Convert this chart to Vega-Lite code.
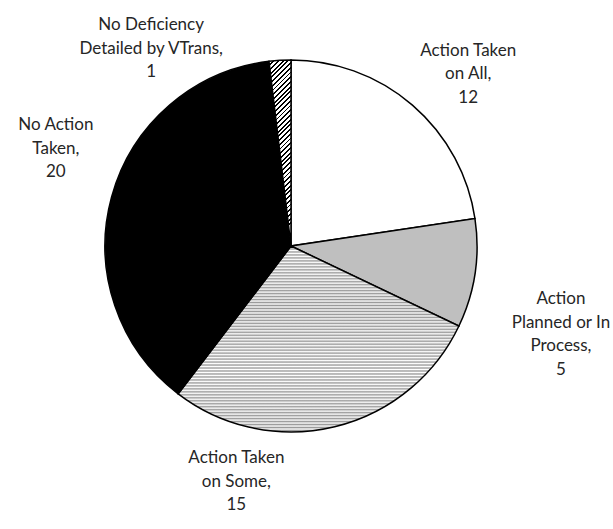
{
  "$schema": "https://vega.github.io/schema/vega-lite/v6.json",
  "width": 558,
  "height": 470,
  "autosize": {"type": "none"},
  "padding": {"left": 12, "top": 11, "right": 43, "bottom": 48},
  "background": "white",
  "config": {"view": {"stroke": null}},
  "data": {
    "values": [
      {"category": "Action Taken on All", "count": 12, "idx": 1, "label": "Action Taken\non All,\n12"},
      {"category": "Action Planned or In Process", "count": 5, "idx": 2, "label": "Action\nPlanned or In\nProcess,\n5"},
      {"category": "Action Taken on Some", "count": 15, "idx": 3, "label": "Action Taken\non Some,\n15"},
      {"category": "No Action Taken", "count": 20, "idx": 4, "label": "No Action\nTaken,\n20"},
      {"category": "No Deficiency Detailed by VTrans", "count": 1, "idx": 5, "label": "No Deficiency\nDetailed by VTrans,\n1"}
    ]
  },
  "encoding": {
    "theta": {"field": "count", "type": "quantitative", "stack": true},
    "order": {"field": "idx", "type": "quantitative"}
  },
  "layer": [
    {
      "mark": {"type": "arc", "outerRadius": 186, "stroke": "#000000", "strokeWidth": 1.5},
      "encoding": {
        "fill": {
          "condition": [
            {"test": "datum.category === 'Action Taken on Some'", "value": {"gradient": "linear", "x1": 0, "y1": 0, "x2": 0, "y2": 1, "stops": [
              {"offset": 0, "color": "#999"}, {"offset": 0.008, "color": "#fff"}, {"offset": 0.016, "color": "#999"}, {"offset": 0.024, "color": "#fff"},
              {"offset": 0.032, "color": "#999"}, {"offset": 0.04, "color": "#fff"}, {"offset": 0.048, "color": "#999"}, {"offset": 0.056, "color": "#fff"},
              {"offset": 0.064, "color": "#999"}, {"offset": 0.072, "color": "#fff"}, {"offset": 0.08, "color": "#999"}, {"offset": 0.088, "color": "#fff"},
              {"offset": 0.096, "color": "#999"}, {"offset": 0.104, "color": "#fff"}, {"offset": 0.112, "color": "#999"}, {"offset": 0.12, "color": "#fff"},
              {"offset": 0.128, "color": "#999"}, {"offset": 0.136, "color": "#fff"}, {"offset": 0.144, "color": "#999"}, {"offset": 0.152, "color": "#fff"},
              {"offset": 0.16, "color": "#999"}, {"offset": 0.168, "color": "#fff"}, {"offset": 0.176, "color": "#999"}, {"offset": 0.184, "color": "#fff"},
              {"offset": 0.192, "color": "#999"}, {"offset": 0.2, "color": "#fff"}, {"offset": 0.208, "color": "#999"}, {"offset": 0.216, "color": "#fff"},
              {"offset": 0.224, "color": "#999"}, {"offset": 0.232, "color": "#fff"}, {"offset": 0.24, "color": "#999"}, {"offset": 0.248, "color": "#fff"},
              {"offset": 0.256, "color": "#999"}, {"offset": 0.264, "color": "#fff"}, {"offset": 0.272, "color": "#999"}, {"offset": 0.28, "color": "#fff"},
              {"offset": 0.288, "color": "#999"}, {"offset": 0.296, "color": "#fff"}, {"offset": 0.304, "color": "#999"}, {"offset": 0.312, "color": "#fff"},
              {"offset": 0.32, "color": "#999"}, {"offset": 0.328, "color": "#fff"}, {"offset": 0.336, "color": "#999"}, {"offset": 0.344, "color": "#fff"},
              {"offset": 0.352, "color": "#999"}, {"offset": 0.36, "color": "#fff"}, {"offset": 0.368, "color": "#999"}, {"offset": 0.376, "color": "#fff"},
              {"offset": 0.384, "color": "#999"}, {"offset": 0.392, "color": "#fff"}, {"offset": 0.4, "color": "#999"}, {"offset": 0.408, "color": "#fff"},
              {"offset": 0.416, "color": "#999"}, {"offset": 0.424, "color": "#fff"}, {"offset": 0.432, "color": "#999"}, {"offset": 0.44, "color": "#fff"},
              {"offset": 0.448, "color": "#999"}, {"offset": 0.456, "color": "#fff"}, {"offset": 0.464, "color": "#999"}, {"offset": 0.472, "color": "#fff"},
              {"offset": 0.48, "color": "#999"}, {"offset": 0.488, "color": "#fff"}, {"offset": 0.496, "color": "#999"}, {"offset": 0.504, "color": "#fff"},
              {"offset": 0.512, "color": "#999"}, {"offset": 0.52, "color": "#fff"}, {"offset": 0.528, "color": "#999"}, {"offset": 0.536, "color": "#fff"},
              {"offset": 0.544, "color": "#999"}, {"offset": 0.552, "color": "#fff"}, {"offset": 0.56, "color": "#999"}, {"offset": 0.568, "color": "#fff"},
              {"offset": 0.576, "color": "#999"}, {"offset": 0.584, "color": "#fff"}, {"offset": 0.592, "color": "#999"}, {"offset": 0.6, "color": "#fff"},
              {"offset": 0.608, "color": "#999"}, {"offset": 0.616, "color": "#fff"}, {"offset": 0.624, "color": "#999"}, {"offset": 0.632, "color": "#fff"},
              {"offset": 0.64, "color": "#999"}, {"offset": 0.648, "color": "#fff"}, {"offset": 0.656, "color": "#999"}, {"offset": 0.664, "color": "#fff"},
              {"offset": 0.672, "color": "#999"}, {"offset": 0.68, "color": "#fff"}, {"offset": 0.688, "color": "#999"}, {"offset": 0.696, "color": "#fff"},
              {"offset": 0.704, "color": "#999"}, {"offset": 0.712, "color": "#fff"}, {"offset": 0.72, "color": "#999"}, {"offset": 0.728, "color": "#fff"},
              {"offset": 0.736, "color": "#999"}, {"offset": 0.744, "color": "#fff"}, {"offset": 0.752, "color": "#999"}, {"offset": 0.76, "color": "#fff"},
              {"offset": 0.768, "color": "#999"}, {"offset": 0.776, "color": "#fff"}, {"offset": 0.784, "color": "#999"}, {"offset": 0.792, "color": "#fff"},
              {"offset": 0.8, "color": "#999"}, {"offset": 0.808, "color": "#fff"}, {"offset": 0.816, "color": "#999"}, {"offset": 0.824, "color": "#fff"},
              {"offset": 0.832, "color": "#999"}, {"offset": 0.84, "color": "#fff"}, {"offset": 0.848, "color": "#999"}, {"offset": 0.856, "color": "#fff"},
              {"offset": 0.864, "color": "#999"}, {"offset": 0.872, "color": "#fff"}, {"offset": 0.88, "color": "#999"}, {"offset": 0.888, "color": "#fff"},
              {"offset": 0.896, "color": "#999"}, {"offset": 0.904, "color": "#fff"}, {"offset": 0.912, "color": "#999"}, {"offset": 0.92, "color": "#fff"},
              {"offset": 0.928, "color": "#999"}, {"offset": 0.936, "color": "#fff"}, {"offset": 0.944, "color": "#999"}, {"offset": 0.952, "color": "#fff"},
              {"offset": 0.96, "color": "#999"}, {"offset": 0.968, "color": "#fff"}, {"offset": 0.976, "color": "#999"}, {"offset": 0.984, "color": "#fff"},
              {"offset": 0.992, "color": "#999"}, {"offset": 1, "color": "#fff"}
            ]}},
            {"test": "datum.category === 'No Deficiency Detailed by VTrans'", "value": {"gradient": "linear", "x1": 0, "y1": 0, "x2": 0.118, "y2": 1, "stops": [
              {"offset": 0, "color": "#000"}, {"offset": 0.01, "color": "#000"}, {"offset": 0.01, "color": "#fff"}, {"offset": 0.025, "color": "#fff"},
              {"offset": 0.025, "color": "#000"}, {"offset": 0.035, "color": "#000"}, {"offset": 0.035, "color": "#fff"}, {"offset": 0.05, "color": "#fff"},
              {"offset": 0.05, "color": "#000"}, {"offset": 0.06, "color": "#000"}, {"offset": 0.06, "color": "#fff"}, {"offset": 0.075, "color": "#fff"},
              {"offset": 0.075, "color": "#000"}, {"offset": 0.085, "color": "#000"}, {"offset": 0.085, "color": "#fff"}, {"offset": 0.1, "color": "#fff"},
              {"offset": 0.1, "color": "#000"}, {"offset": 0.11, "color": "#000"}, {"offset": 0.11, "color": "#fff"}, {"offset": 0.125, "color": "#fff"},
              {"offset": 0.125, "color": "#000"}, {"offset": 0.135, "color": "#000"}, {"offset": 0.135, "color": "#fff"}, {"offset": 0.15, "color": "#fff"},
              {"offset": 0.15, "color": "#000"}, {"offset": 0.16, "color": "#000"}, {"offset": 0.16, "color": "#fff"}, {"offset": 0.175, "color": "#fff"},
              {"offset": 0.175, "color": "#000"}, {"offset": 0.185, "color": "#000"}, {"offset": 0.185, "color": "#fff"}, {"offset": 0.2, "color": "#fff"},
              {"offset": 0.2, "color": "#000"}, {"offset": 0.21, "color": "#000"}, {"offset": 0.21, "color": "#fff"}, {"offset": 0.225, "color": "#fff"},
              {"offset": 0.225, "color": "#000"}, {"offset": 0.235, "color": "#000"}, {"offset": 0.235, "color": "#fff"}, {"offset": 0.25, "color": "#fff"},
              {"offset": 0.25, "color": "#000"}, {"offset": 0.26, "color": "#000"}, {"offset": 0.26, "color": "#fff"}, {"offset": 0.275, "color": "#fff"},
              {"offset": 0.275, "color": "#000"}, {"offset": 0.285, "color": "#000"}, {"offset": 0.285, "color": "#fff"}, {"offset": 0.3, "color": "#fff"},
              {"offset": 0.3, "color": "#000"}, {"offset": 0.31, "color": "#000"}, {"offset": 0.31, "color": "#fff"}, {"offset": 0.325, "color": "#fff"},
              {"offset": 0.325, "color": "#000"}, {"offset": 0.335, "color": "#000"}, {"offset": 0.335, "color": "#fff"}, {"offset": 0.35, "color": "#fff"},
              {"offset": 0.35, "color": "#000"}, {"offset": 0.36, "color": "#000"}, {"offset": 0.36, "color": "#fff"}, {"offset": 0.375, "color": "#fff"},
              {"offset": 0.375, "color": "#000"}, {"offset": 0.385, "color": "#000"}, {"offset": 0.385, "color": "#fff"}, {"offset": 0.4, "color": "#fff"},
              {"offset": 0.4, "color": "#000"}, {"offset": 0.41, "color": "#000"}, {"offset": 0.41, "color": "#fff"}, {"offset": 0.425, "color": "#fff"},
              {"offset": 0.425, "color": "#000"}, {"offset": 0.435, "color": "#000"}, {"offset": 0.435, "color": "#fff"}, {"offset": 0.45, "color": "#fff"},
              {"offset": 0.45, "color": "#000"}, {"offset": 0.46, "color": "#000"}, {"offset": 0.46, "color": "#fff"}, {"offset": 0.475, "color": "#fff"},
              {"offset": 0.475, "color": "#000"}, {"offset": 0.485, "color": "#000"}, {"offset": 0.485, "color": "#fff"}, {"offset": 0.5, "color": "#fff"},
              {"offset": 0.5, "color": "#000"}, {"offset": 0.51, "color": "#000"}, {"offset": 0.51, "color": "#fff"}, {"offset": 0.525, "color": "#fff"},
              {"offset": 0.525, "color": "#000"}, {"offset": 0.535, "color": "#000"}, {"offset": 0.535, "color": "#fff"}, {"offset": 0.55, "color": "#fff"},
              {"offset": 0.55, "color": "#000"}, {"offset": 0.56, "color": "#000"}, {"offset": 0.56, "color": "#fff"}, {"offset": 0.575, "color": "#fff"},
              {"offset": 0.575, "color": "#000"}, {"offset": 0.585, "color": "#000"}, {"offset": 0.585, "color": "#fff"}, {"offset": 0.6, "color": "#fff"},
              {"offset": 0.6, "color": "#000"}, {"offset": 0.61, "color": "#000"}, {"offset": 0.61, "color": "#fff"}, {"offset": 0.625, "color": "#fff"},
              {"offset": 0.625, "color": "#000"}, {"offset": 0.635, "color": "#000"}, {"offset": 0.635, "color": "#fff"}, {"offset": 0.65, "color": "#fff"},
              {"offset": 0.65, "color": "#000"}, {"offset": 0.66, "color": "#000"}, {"offset": 0.66, "color": "#fff"}, {"offset": 0.675, "color": "#fff"},
              {"offset": 0.675, "color": "#000"}, {"offset": 0.685, "color": "#000"}, {"offset": 0.685, "color": "#fff"}, {"offset": 0.7, "color": "#fff"},
              {"offset": 0.7, "color": "#000"}, {"offset": 0.71, "color": "#000"}, {"offset": 0.71, "color": "#fff"}, {"offset": 0.725, "color": "#fff"},
              {"offset": 0.725, "color": "#000"}, {"offset": 0.735, "color": "#000"}, {"offset": 0.735, "color": "#fff"}, {"offset": 0.75, "color": "#fff"},
              {"offset": 0.75, "color": "#000"}, {"offset": 0.76, "color": "#000"}, {"offset": 0.76, "color": "#fff"}, {"offset": 0.775, "color": "#fff"},
              {"offset": 0.775, "color": "#000"}, {"offset": 0.785, "color": "#000"}, {"offset": 0.785, "color": "#fff"}, {"offset": 0.8, "color": "#fff"},
              {"offset": 0.8, "color": "#000"}, {"offset": 0.81, "color": "#000"}, {"offset": 0.81, "color": "#fff"}, {"offset": 0.825, "color": "#fff"},
              {"offset": 0.825, "color": "#000"}, {"offset": 0.835, "color": "#000"}, {"offset": 0.835, "color": "#fff"}, {"offset": 0.85, "color": "#fff"},
              {"offset": 0.85, "color": "#000"}, {"offset": 0.86, "color": "#000"}, {"offset": 0.86, "color": "#fff"}, {"offset": 0.875, "color": "#fff"},
              {"offset": 0.875, "color": "#000"}, {"offset": 0.885, "color": "#000"}, {"offset": 0.885, "color": "#fff"}, {"offset": 0.9, "color": "#fff"},
              {"offset": 0.9, "color": "#000"}, {"offset": 0.91, "color": "#000"}, {"offset": 0.91, "color": "#fff"}, {"offset": 0.925, "color": "#fff"},
              {"offset": 0.925, "color": "#000"}, {"offset": 0.935, "color": "#000"}, {"offset": 0.935, "color": "#fff"}, {"offset": 0.95, "color": "#fff"},
              {"offset": 0.95, "color": "#000"}, {"offset": 0.96, "color": "#000"}, {"offset": 0.96, "color": "#fff"}, {"offset": 0.975, "color": "#fff"},
              {"offset": 0.975, "color": "#000"}, {"offset": 0.985, "color": "#000"}, {"offset": 0.985, "color": "#fff"}, {"offset": 1, "color": "#fff"}
            ]}}
          ],
          "field": "category",
          "type": "nominal",
          "scale": {
            "domain": ["Action Taken on All", "Action Planned or In Process", "Action Taken on Some", "No Action Taken", "No Deficiency Detailed by VTrans"],
            "range": ["#ffffff", "#bfbfbf", "#d9d9d9", "#000000", "#808080"]
          },
          "legend": null
        }
      }
    },
    {
      "mark": {"type": "text", "radius": 250, "dx": 14, "dy": -6, "align": "center", "baseline": "middle", "font": "Lato", "fontSize": 17, "lineHeight": 23.5, "lineBreak": "\n", "fill": "#262626"},
      "encoding": {"text": {"condition": {"test": "datum.category === 'Action Taken on All'", "field": "label", "type": "nominal"}, "value": ""}}
    },
    {
      "mark": {"type": "text", "radius": 280, "dx": -7, "dy": 12, "align": "center", "baseline": "middle", "font": "Lato", "fontSize": 17, "lineHeight": 23.5, "lineBreak": "\n", "fill": "#262626"},
      "encoding": {"text": {"condition": {"test": "datum.category === 'Action Planned or In Process'", "field": "label", "type": "nominal"}, "value": ""}}
    },
    {
      "mark": {"type": "text", "radius": 240, "dx": -111, "dy": -21, "align": "center", "baseline": "middle", "font": "Lato", "fontSize": 17, "lineHeight": 23.5, "lineBreak": "\n", "fill": "#262626"},
      "encoding": {"text": {"condition": {"test": "datum.category === 'Action Taken on Some'", "field": "label", "type": "nominal"}, "value": ""}}
    },
    {
      "mark": {"type": "text", "radius": 250, "dx": 6, "dy": -55, "align": "center", "baseline": "middle", "font": "Lato", "fontSize": 17, "lineHeight": 23.5, "lineBreak": "\n", "fill": "#262626"},
      "encoding": {"text": {"condition": {"test": "datum.category === 'No Action Taken'", "field": "label", "type": "nominal"}, "value": ""}}
    },
    {
      "mark": {"type": "text", "radius": 200, "dx": -128, "dy": -21, "align": "center", "baseline": "middle", "font": "Lato", "fontSize": 17, "lineHeight": 23.5, "lineBreak": "\n", "fill": "#262626"},
      "encoding": {"text": {"condition": {"test": "datum.category === 'No Deficiency Detailed by VTrans'", "field": "label", "type": "nominal"}, "value": ""}}
    }
  ]
}
